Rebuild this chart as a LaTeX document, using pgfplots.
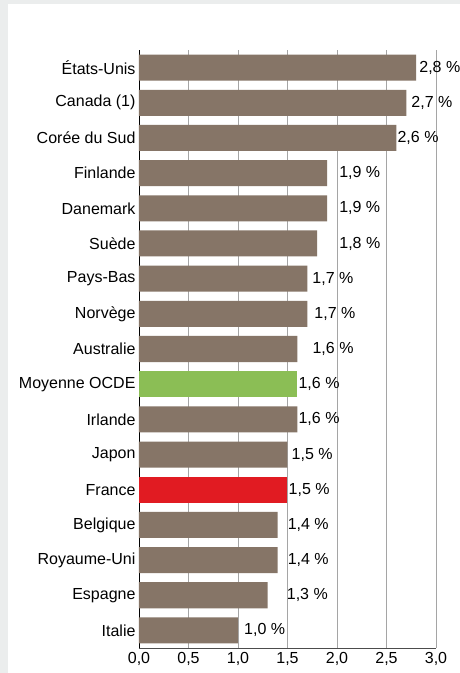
\documentclass[border=0pt]{standalone}
\usepackage{fontspec}
\setmainfont{Liberation Sans}
\usepackage{pgfplots}
\pgfplotsset{compat=1.18}
\definecolor{barbrun}{RGB}{134,117,103}
\definecolor{barvert}{RGB}{139,190,85}
\definecolor{barrouge}{RGB}{225,27,34}
\definecolor{fond}{RGB}{235,237,237}
\definecolor{grille}{RGB}{165,165,165}
\pgfplotsset{
  valeurs/.style={
    nodes near coords={\pgfmathprintnumber[fixed,fixed zerofill,precision=1,use comma,assume math mode=true]{\pgfplotspointmeta}~\%},
    point meta=x,
    visualization depends on={\thisrow{dx}\as\dx},
    every node near coord/.append style={anchor=west, inner sep=2pt, xshift=\dx pt, font=\fontsize{16}{18}\selectfont}},
  cadre/.style={
    at={(139pt,25pt)}, anchor=south west,
    scale only axis, width=297pt, height=598pt,
    xbar, bar width=0.74, bar shift=0pt,
    y dir=reverse,
    xmin=0, xmax=3, ymin=-0.5, ymax=16.5}
}
\begin{document}
\begin{tikzpicture}
\useasboundingbox (0pt,0pt) rectangle (460pt,673pt);
\fill[fond] (0pt,0pt) rectangle (460pt,673pt);
\fill[white] (8pt,0pt) rectangle (460pt,669pt);
\begin{axis}[
  cadre,
  xtick={0,0.5,...,3},
  ytick={0,...,16},
  yticklabels={États-Unis, Canada (1), Corée du Sud, Finlande, Danemark, Suède, Pays-Bas, Norvège, Australie, Moyenne OCDE, Irlande, Japon, France, Belgique, Royaume-Uni, Espagne, Italie},
  axis x line*=bottom, axis y line*=left,
  x axis line style={draw=black!70, line width=1pt},
  y axis line style={draw=black, line width=0.8pt},
  major tick length=0pt,
  xmajorgrids, grid style={grille, line width=0.9pt},
  font=\fontsize{16}{18}\selectfont,
  xticklabel style={yshift=-1pt},
  /pgf/number format/.cd, fixed, fixed zerofill, precision=1, use comma, assume math mode=true,
]
\addplot[fill=barbrun, draw=none, valeurs] table {
x   y  dx
2.8 0  1
2.7 1  3
2.6 2  -1
1.9 3  10
1.9 4  10
1.8 5  20
1.7 6  3
1.7 7  5
1.6 8  13
1.6 10 -1
1.5 11 2
1.4 13 8
1.4 14 8
1.3 15 17
1.0 16 4
};
\addplot[fill=barvert, draw=none, valeurs] table {
x   y  dx
1.6 9  -1
};
\addplot[fill=barrouge, draw=none, valeurs] table {
x   y  dx
1.5 12 -1
};
\end{axis}
\end{tikzpicture}
\end{document}
